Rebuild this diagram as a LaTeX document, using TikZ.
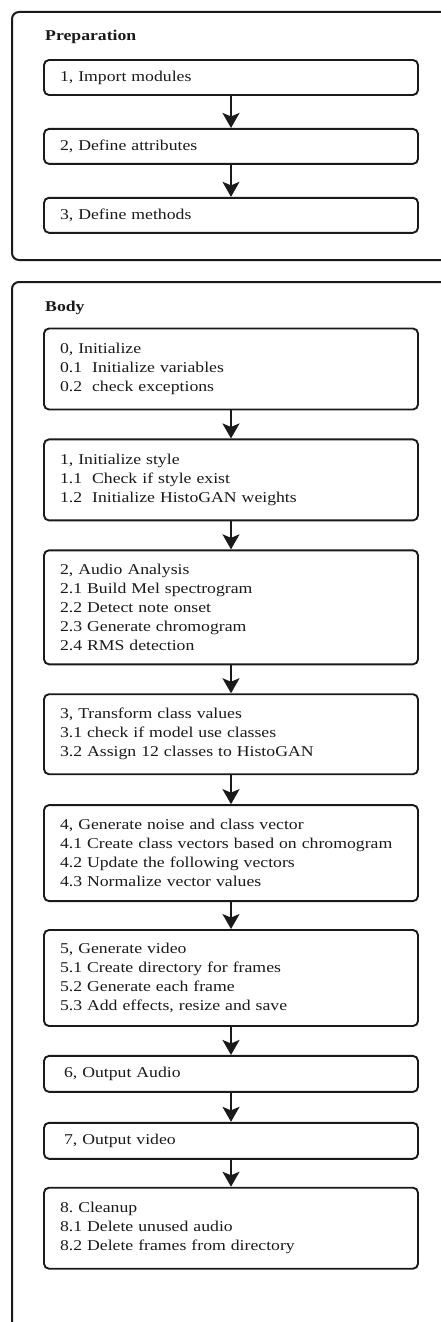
\documentclass[tikz,border=0pt]{standalone}
\usepackage{fontspec}
\setmainfont{Liberation Serif}[FakeStretch=1.18]
\usetikzlibrary{positioning,arrows.meta}
\definecolor{inkgray}{HTML}{1A1A1A}
\frenchspacing

\tikzset{
  stepbox/.style={draw=inkgray, line width=1.9pt, rounded corners=5pt, fill=white,
    text width=342pt, inner xsep=16pt, inner ysep=0pt, align=left,
    text=inkgray, font=\fontsize{15}{19}\selectfont},
  groupbox/.style={draw=inkgray, line width=2pt, rounded corners=7pt},
  grouptitle/.style={anchor=west, inner sep=0pt, text=inkgray,
    font=\fontsize{15}{18}\selectfont\bfseries},
  flow/.style={draw=inkgray, line width=2pt,
    -{Stealth[length=15pt,width=17pt,inset=3.5pt]}}
}

\begin{document}
\begin{tikzpicture}[x=1pt, y=1pt]
    \useasboundingbox (0,0) rectangle (441,-1322);

    % outer groups
    \draw[groupbox] (460,-12) -- (12,-12) -- (12,-260) -- (460,-260);
    \draw[groupbox] (460,-282) -- (12,-282) -- (12,-1340);
    \node[grouptitle] (preptitle) at (45,-37) {Preparation};
    \node[grouptitle] (bodytitle) at (45,-308) {Body};

    % preparation steps
    \node[stepbox, minimum height=35pt] (prep1) at (231,-77.5) {1, Import modules};
    \node[stepbox, minimum height=35pt, below=32pt of prep1] (prep2) {2, Define attributes};
    \node[stepbox, minimum height=35pt, below=32pt of prep2] (prep3) {3, Define methods};

    % body steps
    \node[stepbox, minimum height=81pt] (init) at (231,-369) {0, Initialize\\
        0.1\ \ Initialize variables\\
        0.2\ \ check exceptions};
    \node[stepbox, minimum height=81pt, below=28pt of init] (style) {1, Initialize style\\
        1.1\ \ Check if style exist\\
        1.2\ \ Initialize HistoGAN weights};
    \node[stepbox, minimum height=114pt, below=28pt of style] (audio) {2, Audio Analysis\\
        2.1 Build Mel spectrogram\\
        2.2 Detect note onset\\
        2.3 Generate chromogram\\
        2.4 RMS detection};
    \node[stepbox, minimum height=80pt, below=28pt of audio] (classes) {3, Transform class values\\
        3.1 check if model use classes\\
        3.2 Assign 12 classes to HistoGAN};
    \node[stepbox, minimum height=96pt, below=29pt of classes] (vectors) {4, Generate noise and class vector\\
        4.1 Create class vectors based on chromogram\\
        4.2 Update the following vectors\\
        4.3 Normalize vector values};
    \node[stepbox, minimum height=96pt, below=27pt of vectors] (video) {5, Generate video\\
        5.1 Create directory for frames\\
        5.2 Generate each frame\\
        5.3 Add effects, resize and save};
    \node[stepbox, minimum height=36pt, below=28pt of video] (outaudio) {\hspace{4pt}6, Output Audio};
    \node[stepbox, minimum height=36pt, below=29pt of outaudio] (outvideo) {\hspace{4pt}7, Output video};
    \node[stepbox, minimum height=81pt, below=27pt of outvideo] (cleanup) {8. Cleanup\\
        8.1 Delete unused audio\\
        8.2 Delete frames from directory};

    % connectors
    \draw[flow] (prep1) -- (prep2);
    \draw[flow] (prep2) -- (prep3);
    \draw[flow] (init) -- (style);
    \draw[flow] (style) -- (audio);
    \draw[flow] (audio) -- (classes);
    \draw[flow] (classes) -- (vectors);
    \draw[flow] (vectors) -- (video);
    \draw[flow] (video) -- (outaudio);
    \draw[flow] (outaudio) -- (outvideo);
    \draw[flow] (outvideo) -- (cleanup);
\end{tikzpicture}
\end{document}
